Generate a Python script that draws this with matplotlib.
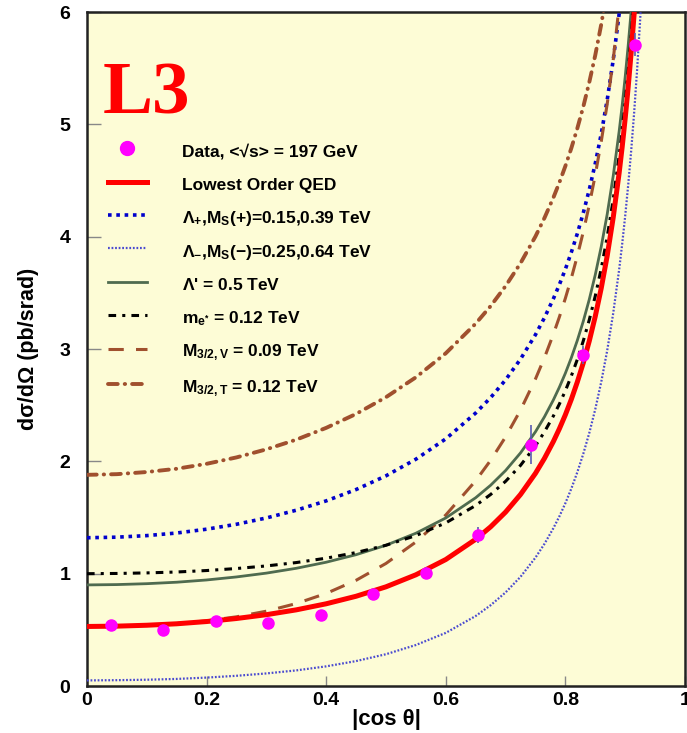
import matplotlib
matplotlib.use("Agg")
import matplotlib.pyplot as plt
from matplotlib.lines import Line2D

plt.rcParams['font.family'] = ['Liberation Sans', 'DejaVu Sans']
plt.rcParams['font.weight'] = 'bold'
plt.rcParams['mathtext.fontset'] = 'custom'
plt.rcParams['mathtext.rm'] = 'Liberation Sans:bold'
plt.rcParams['mathtext.it'] = 'Liberation Sans:bold'
plt.rcParams['mathtext.bf'] = 'Liberation Sans:bold'
plt.rcParams['mathtext.default'] = 'bf'

# |cos theta| grid the curves were read at
cos_grid = [0, 0.05, 0.1, 0.15, 0.2, 0.25, 0.3, 0.35, 0.4, 0.45, 0.5, 0.55, 0.6,
            0.65, 0.675, 0.7, 0.725, 0.75, 0.765, 0.78, 0.79, 0.8, 0.81, 0.82,
            0.83, 0.84, 0.85, 0.86, 0.87, 0.88, 0.89, 0.895, 0.9, 0.905, 0.91,
            0.915, 0.92, 0.925, 0.93]

qed = [0.530, 0.533, 0.541, 0.554, 0.574, 0.601, 0.635, 0.678, 0.732, 0.799,
       0.883, 0.990, 1.126, 1.306, 1.417, 1.548, 1.705, 1.893, 2.026, 2.177,
       2.290, 2.414, 2.552, 2.706, 2.877, 3.071, 3.290, 3.541, 3.830, 4.169,
       4.569, 4.797, 5.049, 5.327, 5.636, 5.982, 6.371]
lam_plus = [1.320, 1.325, 1.339, 1.362, 1.396, 1.440, 1.496, 1.565, 1.648, 1.749,
            1.871, 2.019, 2.200, 2.430, 2.567, 2.725, 2.910, 3.127, 3.278, 3.448,
            3.573, 3.710, 3.861, 4.027, 4.212, 4.418, 4.651, 4.915, 5.218, 5.571,
            5.984, 6.220]
lam_minus = [0.050, 0.052, 0.056, 0.063, 0.075, 0.091, 0.112, 0.139, 0.175, 0.222,
             0.283, 0.365, 0.473, 0.623, 0.719, 0.833, 0.972, 1.143, 1.265, 1.405,
             1.510, 1.627, 1.757, 1.903, 2.067, 2.252, 2.463, 2.706, 2.987, 3.317,
             3.708, 3.933, 4.180, 4.454, 4.759, 5.100, 5.485, 5.921, 6.421]
lam_prime = [0.900, 0.903, 0.911, 0.924, 0.944, 0.971, 1.005, 1.048, 1.102, 1.169,
             1.253, 1.360, 1.496, 1.676, 1.787, 1.918, 2.075, 2.263, 2.396, 2.547,
             2.660, 2.784, 2.922, 3.076, 3.247, 3.441, 3.660, 3.911, 4.200, 4.539,
             4.939, 5.167, 5.419, 5.697, 6.006, 6.352]
m_estar = [1.000, 1.002, 1.007, 1.015, 1.028, 1.046, 1.069, 1.099, 1.138, 1.188,
           1.253, 1.339, 1.452, 1.607, 1.705, 1.822, 1.964, 2.138, 2.262, 2.404,
           2.510, 2.628, 2.760, 2.907, 3.072, 3.259, 3.471, 3.715, 3.998, 4.329,
           4.722, 4.947, 5.195, 5.470, 5.775, 6.117]
m32_v = [0.530, 0.533, 0.541, 0.556, 0.580, 0.616, 0.666, 0.734, 0.824, 0.941,
         1.091, 1.282, 1.522, 1.827, 2.009, 2.217, 2.456, 2.733, 2.922, 3.132,
         3.285, 3.451, 3.631, 3.828, 4.043, 4.282, 4.548, 4.846, 5.182, 5.572,
         6.056]
m32_t = [1.880, 1.886, 1.905, 1.934, 1.978, 2.035, 2.107, 2.193, 2.298, 2.422,
         2.571, 2.748, 2.962, 3.226, 3.382, 3.560, 3.764, 4.002, 4.166, 4.348,
         4.482, 4.628, 4.788, 4.964, 5.157, 5.374, 5.615, 5.889, 6.202]

data_x = [0.040, 0.127, 0.216, 0.303, 0.391, 0.478, 0.567, 0.654, 0.742, 0.829, 0.916]
data_y = [0.545, 0.500, 0.580, 0.560, 0.630, 0.820, 1.010, 1.345, 2.150, 2.950, 5.710]
data_err = [0.03, 0.03, 0.03, 0.03, 0.03, 0.04, 0.05, 0.07, 0.17, 0.08, 0.10]

labels = ["Data, <\u221as> = 197 GeV",
          "Lowest Order QED",
          r"$\Lambda_{+}$,M$_{S}$(+)=0.15,0.39 TeV",
          r"$\Lambda_{-}$,M$_{S}$($-$)=0.25,0.64 TeV",
          r"$\Lambda$' = 0.5 TeV",
          r"m$_{e^{*}}$ = 0.12 TeV",
          r"M$_{3/2,V}$ = 0.09 TeV",
          r"M$_{3/2,T}$ = 0.12 TeV"]

fig = plt.figure(figsize=(6.87, 7.33), dpi=100)
ax = fig.add_axes([0.1266, 0.0641, 0.8704, 0.9195])
ax.set_facecolor('#fdfcd6')

brown = '#a0502e'
styles = [
    (qed, dict(color='#ff0000', lw=3.6, ls='-', zorder=5)),
    (lam_plus, dict(color='#0000cc', lw=2.6, ls=(0, (1, 1.3)), zorder=3)),
    (lam_minus, dict(color='#4a4ad0', lw=1.6, ls=(0, (0.8, 0.8)), zorder=3)),
    (lam_prime, dict(color='#4f6b4f', lw=2.0, ls='-', zorder=4)),
    (m_estar, dict(color='#000000', lw=2.2, ls=(0, (2.5, 2, 1, 2)), zorder=4)),
    (m32_v, dict(color=brown, lw=2.2, ls=(0, (5, 4)), zorder=3)),
    (m32_t, dict(color=brown, lw=2.8, ls=(0, (2.5, 1.8, 0.1, 1.8)),
                 dash_capstyle='round', zorder=3)),
]
handles = [Line2D([], [], color='#ff00ff', marker='o', ls='none', ms=10)]
for ys, kw in styles:
    ax.plot(cos_grid[:len(ys)], ys, **kw)
    handles.append(Line2D([], [], **{k: v for k, v in kw.items() if k != 'zorder'}))

ax.errorbar(data_x, data_y, yerr=data_err, fmt='o', color='#ff00ff', ms=8,
            ecolor='#5a5ab4', elinewidth=1.2, capsize=0, zorder=6)

ax.set_xlim(0, 1)
ax.set_ylim(0, 6)
ax.set_xticks([0, 0.2, 0.4, 0.6, 0.8, 1])
ax.set_xticklabels(['0', '0.2', '0.4', '0.6', '0.8', '1'])
ax.set_yticks(range(7))
ax.tick_params(direction='in', width=1, color='#888888', labelsize=14)
ax.tick_params(axis='x', length=7.5, pad=4)
ax.tick_params(axis='y', length=10, pad=12)
for lbl in ax.get_xticklabels() + ax.get_yticklabels():
    lbl.set_fontweight('bold')
for sp in ax.spines.values():
    sp.set_linewidth(1.8)
    sp.set_color('#222222')

ax.set_xlabel('|cos \u03b8|', fontsize=16, fontweight='bold', labelpad=0)
ax.set_ylabel('d\u03c3/d\u03a9 (pb/srad)', fontsize=15.5, fontweight='bold', labelpad=15)

ax.text(0.027, 5.10, 'L3', color='#ff0000', fontsize=54, fontweight='bold',
        family='Liberation Serif', ha='left', va='baseline')

fs = 12.5
leg = ax.legend(handles, labels, loc='upper left', bbox_to_anchor=(0.035, 0.81),
                frameon=False, fontsize=fs, handlelength=2.24, handleheight=1.5,
                handletextpad=2.0, labelspacing=0.70, borderpad=0, borderaxespad=0)
for t in leg.get_texts():
    t.set_fontweight('bold')

fig.savefig('out.png', dpi=100, facecolor='white')
